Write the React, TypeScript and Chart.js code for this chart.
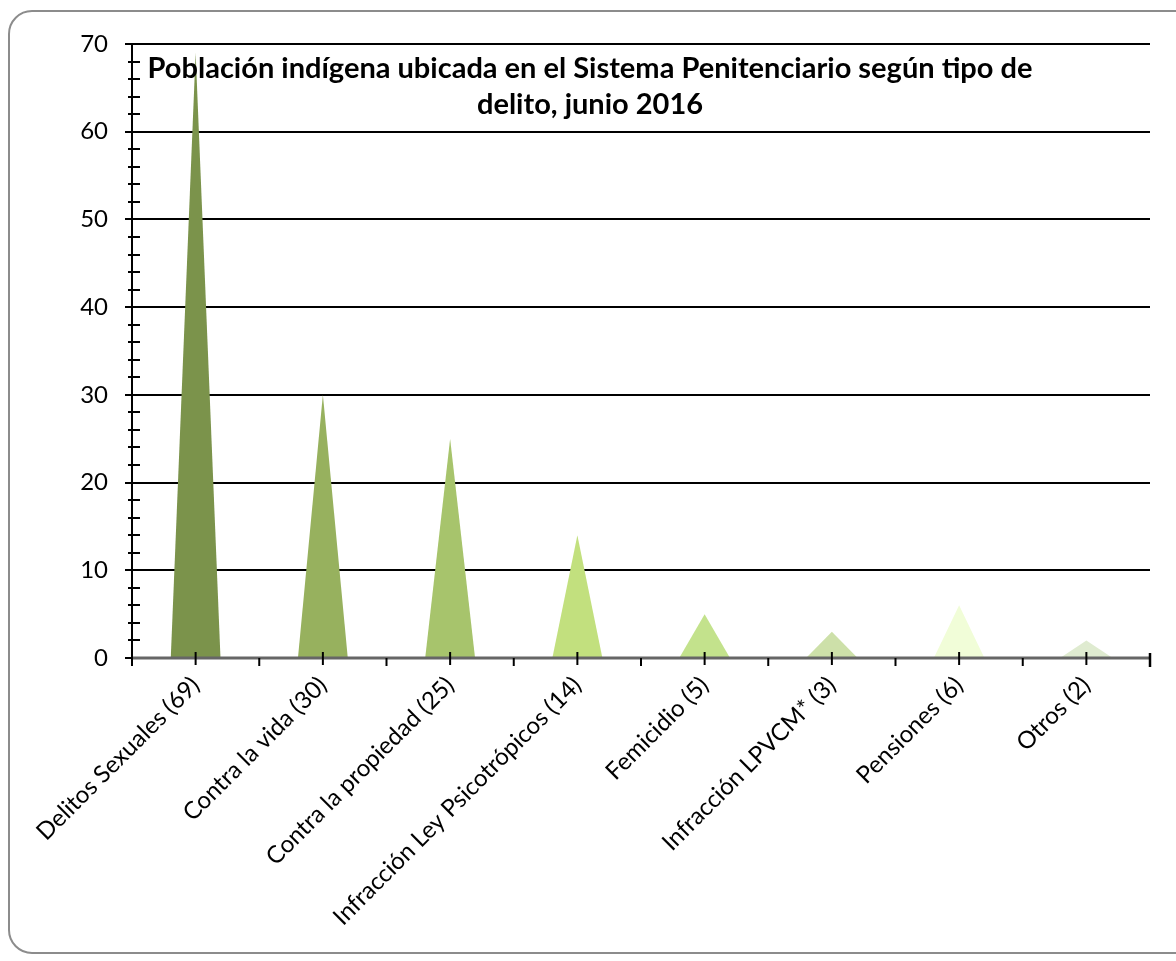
import React, { useEffect, useRef } from "react";
import { Chart, registerables } from "chart.js";

Chart.register(...registerables);

const categories = [
  "Delitos Sexuales (69)",
  "Contra la vida (30)",
  "Contra la propiedad (25)",
  "Infracción Ley Psicotrópicos (14)",
  "Femicidio (5)",
  "Infracción LPVCM* (3)",
  "Pensiones (6)",
  "Otros (2)",
];
const values = [69, 30, 25, 14, 5, 3, 6, 2];
const colors = ["#7b934b", "#97b15e", "#a7c46c", "#c2e07e", "#c3e28c", "#cde0a9", "#f1fdd8", "#dfebd0"];
const yMin = 0;
const yMax = 70;
const yStep = 10;
const yMinorStep = 2;
const titleLines = [
  "Población indígena ubicada en el Sistema Penitenciario según tipo de",
  "delito, junio 2016",
];

const FONT = "Lato, 'Open Sans', sans-serif";

const shapesPlugin = {
  id: "shapes",
  afterDatasetsDraw(chart: any) {
    const ctx = chart.ctx;
    const meta = chart.getDatasetMeta(0);
    meta.data.forEach((el: any, i: number) => {
      const { x, y, base, width } = el.getProps(["x", "y", "base", "width"], true);
      ctx.save();
      ctx.fillStyle = colors[i];
      ctx.beginPath();
      ctx.moveTo(x - width / 2, base);
      ctx.lineTo(x, y);
      ctx.lineTo(x + width / 2, base);
      ctx.closePath();
      ctx.fill();
      ctx.restore();
    });

    const xs = chart.scales.x;
    const ys = chart.scales.y;
    const { left, right, bottom } = chart.chartArea;
    ctx.save();
    // x axis line
    ctx.strokeStyle = "#666666";
    ctx.lineWidth = 3;
    ctx.beginPath();
    ctx.moveTo(left, bottom);
    ctx.lineTo(right, bottom);
    ctx.stroke();

    // y axis line
    ctx.strokeStyle = "#000";
    ctx.lineWidth = 2;
    ctx.beginPath();
    ctx.moveTo(left, ys.getPixelForValue(yMax));
    ctx.lineTo(left, bottom + 8);
    ctx.stroke();

    // y ticks
    for (let v = yMin; v <= yMax; v += yMinorStep) {
      const py = Math.round(ys.getPixelForValue(v));
      ctx.beginPath();
      if (v % yStep === 0) {
        ctx.moveTo(left - 7, py);
        ctx.lineTo(left + 1, py);
      } else {
        ctx.moveTo(left - 4, py);
        ctx.lineTo(left + 8, py);
      }
      ctx.stroke();
    }

    // x ticks
    const n = categories.length;
    const catW = (right - left) / n;
    for (let i = 0; i < n; i++) {
      const cx = xs.getPixelForValue(i);
      ctx.beginPath();
      ctx.moveTo(cx, bottom - 6);
      ctx.lineTo(cx, bottom + 7);
      ctx.stroke();
      if (i > 0) {
        const bx = cx - catW / 2;
        ctx.beginPath();
        ctx.moveTo(bx, bottom);
        ctx.lineTo(bx, bottom + 8);
        ctx.stroke();
      }
    }
    ctx.lineWidth = 2.5;
    ctx.beginPath();
    ctx.moveTo(right, bottom - 5);
    ctx.lineTo(right, bottom + 9);
    ctx.stroke();
    ctx.restore();
  },
  afterDraw(chart: any) {
    const ctx = chart.ctx;
    ctx.save();
    ctx.fillStyle = "#000";
    ctx.font = `bold 29px ${FONT}`;
    ctx.textAlign = "center";
    ctx.textBaseline = "alphabetic";
    const cx = chart.width / 2 + 2;
    ctx.fillText(titleLines[0], cx, 78);
    ctx.fillText(titleLines[1], cx, 114);
    ctx.restore();
  },
};

export default function App() {
  const ref = useRef<HTMLCanvasElement>(null);
  useEffect(() => {
    document.body.style.margin = "0";
    const chart = new Chart(ref.current as HTMLCanvasElement, {
      type: "bar",
      data: {
        labels: categories,
        datasets: [
          {
            data: values,
            backgroundColor: "rgba(0,0,0,0)",
            borderWidth: 0,
            barPercentage: 0.39,
            categoryPercentage: 1,
          },
        ],
      },
      options: {
        animation: false,
        responsive: false,
        maintainAspectRatio: false,
        layout: { padding: { left: 0, top: 44, right: 26, bottom: 0 } },
        plugins: { legend: { display: false }, tooltip: { enabled: false }, title: { display: false } },
        scales: {
          x: {
            offset: true,
            grid: { display: false, drawTicks: false },
            border: { display: false },
            afterFit: (s: any) => {
              s.height = 303;
            },
            ticks: {
              autoSkip: false,
              minRotation: 45,
              maxRotation: 45,
              padding: 13,
              color: "#000",
              font: { family: FONT, size: 24 },
            },
          },
          y: {
            min: yMin,
            max: yMax,
            grid: {
              drawTicks: false,
              color: (c: any) => (c.tick && c.tick.value === 0 ? "rgba(0,0,0,0)" : "#000"),
              lineWidth: 2,
            },
            border: { display: false },
            afterFit: (s: any) => {
              s.width = 132;
            },
            ticks: {
              stepSize: yStep,
              padding: 24,
              color: "#000",
              font: { family: FONT, size: 24 },
            },
          },
        },
      },
      plugins: [shapesPlugin],
    });
    return () => chart.destroy();
  }, []);

  return (
    <div style={{ position: "fixed", left: 0, top: 0, width: 1176, height: 961, overflow: "hidden", background: "#fff" }}>
      <div
        style={{
          position: "absolute",
          left: 8,
          top: 10,
          width: 1190,
          height: 944,
          border: "2px solid #8c8c8c",
          borderRadius: 24,
          boxSizing: "border-box",
        }}
      />
      <canvas ref={ref} width={1176} height={961} style={{ position: "absolute", left: 0, top: 0 }} />
    </div>
  );
}
